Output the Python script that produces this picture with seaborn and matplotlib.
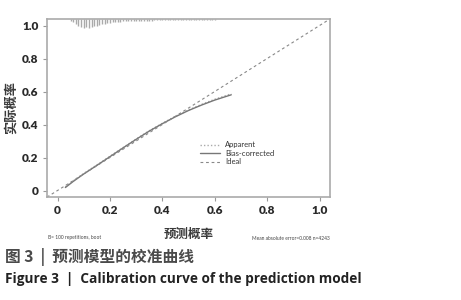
import numpy as np
import pandas as pd
import matplotlib
matplotlib.use("Agg")
import matplotlib.pyplot as plt
import seaborn as sns

# ---- data ----
bias_x = [0.03, 0.06, 0.10, 0.15, 0.20, 0.25, 0.30, 0.35, 0.40, 0.45, 0.50, 0.55, 0.60, 0.663]
bias_y = [0.018, 0.055, 0.100, 0.152, 0.205, 0.258, 0.310, 0.360, 0.405, 0.447, 0.485, 0.518, 0.548, 0.580]
app_x = [0.03, 0.06, 0.10, 0.15, 0.20, 0.25, 0.30, 0.35, 0.40, 0.45, 0.50, 0.55, 0.60, 0.663]
app_y = [0.022, 0.058, 0.103, 0.155, 0.207, 0.260, 0.312, 0.362, 0.407, 0.450, 0.488, 0.522, 0.553, 0.586]
ideal_x = [-0.04, 1.04]
ideal_y = [-0.04, 1.04]
hist_x = [0.05, 0.06, 0.07, 0.08, 0.09, 0.10, 0.11, 0.12, 0.13, 0.14, 0.15, 0.16, 0.17, 0.18,
          0.19, 0.20, 0.21, 0.22, 0.23, 0.24, 0.25, 0.26, 0.27, 0.28, 0.29, 0.30, 0.31, 0.32,
          0.33, 0.34, 0.35, 0.36, 0.37, 0.38, 0.39, 0.40, 0.41, 0.42, 0.43, 0.44, 0.45, 0.46,
          0.47, 0.48, 0.49, 0.50, 0.51, 0.52, 0.53, 0.54, 0.55, 0.56, 0.57, 0.58, 0.59, 0.60,
          0.61, 0.62]
hist_h = [0.010, 0.020, 0.030, 0.040, 0.048, 0.055, 0.050, 0.056, 0.050, 0.046, 0.040, 0.036,
          0.030, 0.028, 0.024, 0.022, 0.020, 0.018, 0.017, 0.016, 0.015, 0.014, 0.014, 0.013,
          0.013, 0.012, 0.012, 0.011, 0.011, 0.010, 0.010, 0.010, 0.009, 0.009, 0.009, 0.008,
          0.008, 0.008, 0.008, 0.007, 0.007, 0.007, 0.007, 0.006, 0.006, 0.006, 0.006, 0.005,
          0.005, 0.005, 0.005, 0.005, 0.004, 0.004, 0.004, 0.004, 0.003, 0.003]
xticks = [0, 0.2, 0.4, 0.6, 0.8, 1.0]
xticklabels = ["0", "0.2", "0.4", "0.6", "0.8", "1.0"]
yticks = [0, 0.2, 0.4, 0.6, 0.8, 1.0]
yticklabels = ["0", "0.2", "0.4", "0.6", "0.8", "1.0"]

sns.set_theme(style="white")
plt.rcParams['font.family'] = ['Noto Sans CJK SC', 'DejaVu Sans']

fig = plt.figure(figsize=(4.61, 3.0), dpi=100)
ax = fig.add_axes([0.102, 0.343, 0.614, 0.594])

top = 1.04
ax.vlines(hist_x, [top - h for h in hist_h], top, color="#aaaaaa", lw=1.0)

sns.lineplot(x=app_x, y=app_y, ax=ax, color="#aaaaaa", lw=1.0, linestyle=(0, (1, 1.5)), label="Apparent")
sns.lineplot(x=bias_x, y=bias_y, ax=ax, color="#777777", lw=1.0, linestyle="-", label="Bias-corrected")
sns.lineplot(x=ideal_x, y=ideal_y, ax=ax, color="#888888", lw=0.8, linestyle=(0, (2.5, 2.5)), label="Ideal")

ax.set_xlim(-0.04, 1.04)
ax.set_ylim(-0.04, 1.04)
ax.set_xticks(xticks)
ax.set_xticklabels(xticklabels)
ax.set_yticks(yticks)
ax.set_yticklabels(yticklabels)
for lab in ax.get_xticklabels() + ax.get_yticklabels():
    lab.set_fontfamily(['Lato', 'DejaVu Sans'])
    lab.set_fontweight('heavy')
    lab.set_fontsize(8.5)
    lab.set_color('#2a2a2a')
ax.tick_params(axis='both', direction='out', length=3, width=0.8, color='#999999', pad=3,
               bottom=True, left=True)
for s in ax.spines.values():
    s.set_color('#aaaaaa')
    s.set_linewidth(1.2)

ax.set_xlabel("预测概率", fontsize=9, color='#3a3a3a', fontweight='bold')
ax.set_ylabel("实际概率", fontsize=9.5, color='#3a3a3a', fontweight='bold')
ax.xaxis.set_label_coords(0.5, -0.175)
ax.yaxis.set_label_coords(-0.105, 0.5)

leg = ax.legend(loc='upper left', bbox_to_anchor=(0.53, 0.33), frameon=False,
                handlelength=2.6, handletextpad=0.7, labelspacing=0.2, borderaxespad=0,
                prop={'family': ['Lato', 'DejaVu Sans'], 'size': 5.5})
for t in leg.get_texts():
    t.set_color('#333333')

fig.text(48/461, 1 - 238/300, "B= 100 repetitions, boot", fontsize=3.5, color='#444444',
         family=['Lato', 'DejaVu Sans'], va='center', ha='left')
fig.text(330/461, 1 - 238/300, "Mean absolute error=0.008 n=4243", fontsize=3.5, color='#444444',
         family=['Lato', 'DejaVu Sans'], va='center', ha='right')

fig.text(5/461, 1 - 257/300, "图 3  |  预测模型的校准曲线", fontsize=11.3, color='#4a4a4a',
         fontweight='bold', va='center', ha='left', family=['Noto Sans CJK SC', 'DejaVu Sans'])
fig.text(5/461, 1 - 279/300, "Figure 3  |  Calibration curve of the prediction model", fontsize=9.8,
         color='#222222', fontweight='bold', va='center', ha='left', family=['Open Sans', 'DejaVu Sans'])

fig.savefig("out.png", dpi=100)
